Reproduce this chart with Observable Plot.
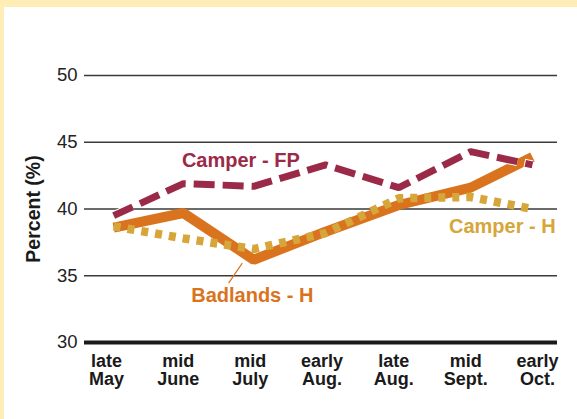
<!DOCTYPE html>
<html>
<head>
<meta charset="utf-8">
<script src="https://cdn.jsdelivr.net/npm/d3@7"></script>
<script src="https://cdn.jsdelivr.net/npm/@observablehq/plot@0.6"></script>
<style>
  html, body { margin: 0; padding: 0; background: #ffffff; }
  #wrap { position: relative; width: 577px; height: 419px; overflow: hidden; background: #ffffff; }
  #wrap svg { position: absolute; left: 0; top: 0; }
  .band-top { position: absolute; left: 0; top: 0; width: 577px; height: 7px; background: #feeeb6; }
  .band-left { position: absolute; left: 0; top: 0; width: 4px; height: 419px; background: #feeeb6; }
</style>
</head>
<body>
<div id="wrap"><div class="band-top"></div><div class="band-left"></div></div>
<script>
// Category tick labels (x axis)
const periods = ["late\nMay", "mid\nJune", "mid\nJuly", "early\nAug.", "late\nAug.", "mid\nSept.", "early\nOct."];
const periodTicks = [0, 1, 2, 3, 4, 5, 6];
// Sampling positions of the observations along the period axis
const samplePos = [0.1, 1.07, 2.05, 3.05, 4.07, 5.07, 5.93];

// Series values (percent)
const camperFP   = [39.5, 41.9, 41.7, 43.3, 41.6, 44.3, 43.3];
const badlandsH  = [38.6, 39.7, 36.2, 38.3, 40.3, 41.6, 43.9];
const camperH    = [38.7, 37.8, 37.0, 38.2, 40.8, 40.9, 40.0];

const yTicks = [30, 35, 40, 45, 50];

// Series labels and their positions (data units)
const seriesNames = ["Camper - FP", "Camper - H", "Badlands - H"];
const labelX = [1.87, 5.51, 2.03];
const labelY = [43.63, 38.68, 33.5];
const colors = {"Camper - FP": "#9b2a48", "Camper - H": "#d6a63a", "Badlands - H": "#d9731e"};
// Leader line for Badlands label
const leader = {x1: 1.70, y1: 34.45, x2: 1.89, y2: 35.95};

const toRows = (vals) => vals.map((v, i) => ({x: samplePos[i], y: v}));
const labels = seriesNames.map((s, i) => ({name: s, x: labelX[i], y: labelY[i]}));

const font = "'Liberation Sans', Arial, Helvetica, sans-serif";

const chart = Plot.plot({
  width: 577,
  height: 419,
  marginLeft: 84,
  marginRight: 20,
  marginTop: 75,
  marginBottom: 77,
  style: {fontFamily: font, background: "transparent", color: "#222"},
  x: {domain: [0, 6], range: [106, 537]},
  y: {domain: [30, 50]},
  marks: [
    Plot.ruleY(yTicks.filter(d => d > 30), {stroke: "#3a3a3a", strokeWidth: 1.4}),
    Plot.ruleY([30], {stroke: "#1a1a1a", strokeWidth: 4}),
    Plot.axisY({ticks: yTicks, tickSize: 0, tickPadding: 7, fontSize: 18.5, label: null, tickFormat: d => String(d)}),
    Plot.axisX({ticks: periodTicks, tickSize: 0, tickPadding: 11, fontSize: 18, fontWeight: "bold", lineHeight: 1.02, label: null, tickFormat: i => periods[i], fill: "#1a1a1a"}),
    Plot.text(["Percent (%)"], {frameAnchor: "left", textAnchor: "middle", rotate: -90, dx: -51, fontSize: 19.5, fontWeight: "bold", fill: "#1a1a1a"}),
    Plot.line(toRows(badlandsH), {x: "x", y: "y", stroke: colors["Badlands - H"], strokeWidth: 10, strokeLinejoin: "miter", strokeLinecap: "butt"}),
    Plot.line(toRows(camperH), {x: "x", y: "y", stroke: colors["Camper - H"], strokeWidth: 8.5, strokeDasharray: "7,7", strokeLinejoin: "miter", strokeLinecap: "butt"}),
    Plot.line(toRows(camperFP), {x: "x", y: "y", stroke: "#ffffff", strokeWidth: 9, strokeDasharray: "22,7", strokeDashoffset: 1, strokeLinecap: "butt"}),
    Plot.line(toRows(camperFP), {x: "x", y: "y", stroke: colors["Camper - FP"], strokeWidth: 7, strokeDasharray: "21,8", strokeLinejoin: "miter", strokeLinecap: "butt"}),
    Plot.link([leader], {x1: "x1", y1: "y1", x2: "x2", y2: "y2", stroke: colors["Badlands - H"], strokeWidth: 1.2}),
    Plot.text(labels, {x: "x", y: "y", text: "name", fill: d => colors[d.name], fontSize: 20, fontWeight: "bold"})
  ]
});
document.getElementById("wrap").appendChild(chart);
</script>
</body>
</html>
